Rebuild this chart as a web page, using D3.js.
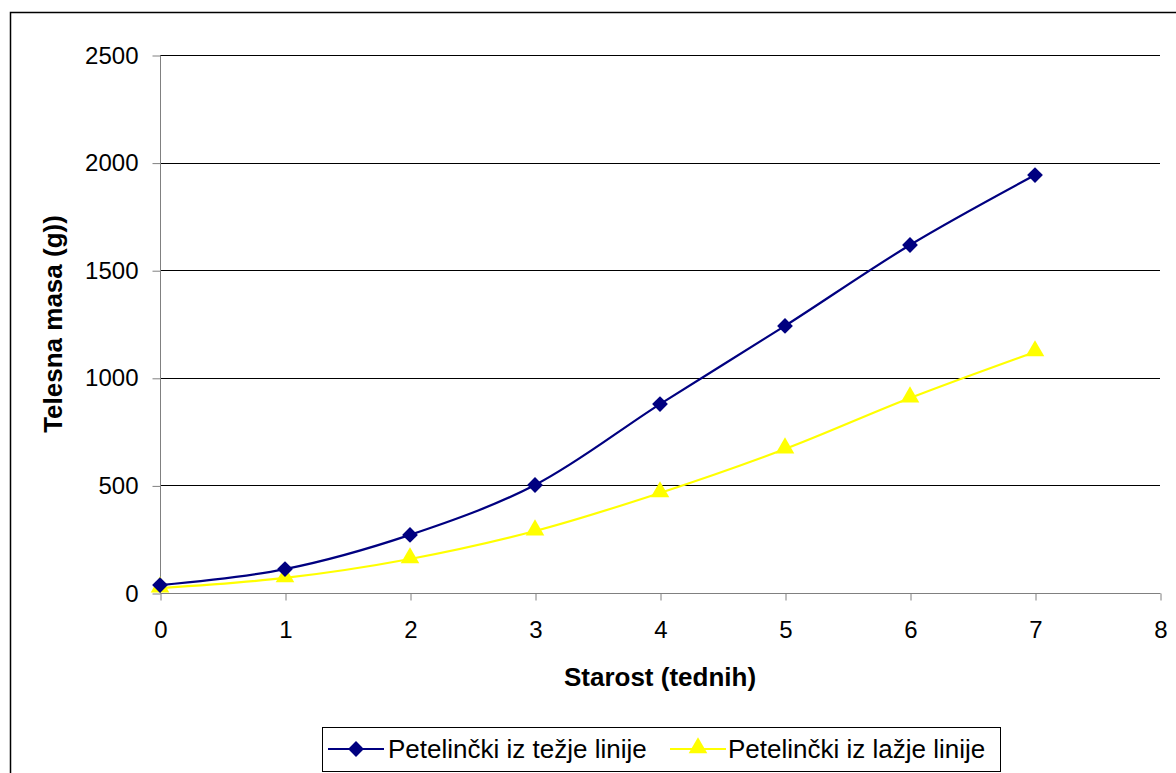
<!DOCTYPE html>
<html>
<head>
<meta charset="utf-8">
<script src="https://cdn.jsdelivr.net/npm/d3@7"></script>
<style>
  html, body { margin: 0; padding: 0; background: #fff; }
  svg { display: block; font-family: "Liberation Sans", Arial, sans-serif; }
</style>
</head>
<body>
<svg id="chart" width="1176" height="773"></svg>
<script>
// Starost (tedni) in telesna masa (g) za dve liniji petelinčkov
const weeks = [0, 1, 2, 3, 4, 5, 6, 7];
const heavyLine = [37, 111, 270, 502, 878, 1241, 1617, 1942];
const lightLine = [23, 70, 158, 288, 465, 669, 906, 1120];
const seriesNames = ["Petelinčki iz težje linije", "Petelinčki iz lažje linije"];
const xTicks = [0, 1, 2, 3, 4, 5, 6, 7, 8];
const yTicks = [0, 500, 1000, 1500, 2000, 2500];
const xTitle = "Starost (tednih)";
const yTitle = "Telesna masa (g))";

const FONT = "Liberation Sans, Arial, sans-serif";
const svg = d3.select("#chart");

// outer chart frame
svg.append("rect")
  .attr("x", 10.5).attr("y", 12.5)
  .attr("width", 1200).attr("height", 800)
  .attr("fill", "#fff").attr("stroke", "#000").attr("stroke-width", 1.5);

const x = d3.scaleLinear().domain([0, 8]).range([160, 1160]);
const y = d3.scaleLinear().domain([0, 2500]).range([593, 55]);

// horizontal gridlines
svg.append("g").selectAll("line")
  .data(yTicks.filter(d => d > 0))
  .join("line")
  .attr("x1", x(0)).attr("x2", x(8))
  .attr("y1", d => Math.round(y(d)) + 0.5).attr("y2", d => Math.round(y(d)) + 0.5)
  .attr("stroke", "#000").attr("stroke-width", 1);

// y axis
const yAxis = svg.append("g")
  .attr("transform", `translate(${x(0) + 0.5},0.5)`)
  .call(d3.axisLeft(y).tickValues(yTicks).tickSize(8).tickPadding(14).tickFormat(d3.format("d")));
yAxis.select(".domain").attr("stroke", "#808080").attr("d", `M0,${y(2500)}V${y(0)}`);
yAxis.selectAll(".tick line").attr("stroke", "#808080");
yAxis.selectAll(".tick text").attr("font-size", 24).attr("fill", "#000").attr("font-family", FONT);

// x axis
const xAxis = svg.append("g")
  .attr("transform", `translate(0.5,${Math.round(y(0)) + 0.5})`)
  .call(d3.axisBottom(x).tickValues(xTicks).tickSize(7).tickPadding(20).tickFormat(d3.format("d")));
xAxis.select(".domain").attr("stroke", "#808080").attr("d", `M${x(0)},0H${x(8)}`);
xAxis.selectAll(".tick line").attr("stroke", "#808080");
xAxis.selectAll(".tick text").attr("font-size", 24).attr("fill", "#000").attr("font-family", FONT);

// axis titles
svg.append("text")
  .attr("x", x(4)).attr("y", 686)
  .attr("text-anchor", "middle")
  .attr("font-size", 26).attr("font-weight", "bold").attr("font-family", FONT)
  .text(xTitle);

svg.append("text")
  .attr("transform", `translate(62,${y(1250)}) rotate(-90)`)
  .attr("text-anchor", "middle")
  .attr("font-size", 26).attr("font-weight", "bold").attr("font-family", FONT)
  .text(yTitle);

const line = d3.line()
  .x((d, i) => x(weeks[i]))
  .y(d => y(d))
  .curve(d3.curveCatmullRom.alpha(0.5));

const heavyColor = "#000080";
const lightColor = "#FFFF00";

const diamond = d3.symbol().type(d3.symbolSquare).size(125);
const triangle = d3.symbol().type(d3.symbolTriangle).size(150);

// light series (drawn first so heavy sits on top)
svg.append("path")
  .datum(lightLine)
  .attr("d", line)
  .attr("fill", "none").attr("stroke", lightColor).attr("stroke-width", 2.2);
svg.append("g").selectAll("path")
  .data(lightLine)
  .join("path")
  .attr("d", triangle)
  .attr("transform", (d, i) => `translate(${x(weeks[i])},${y(d) - 1})`)
  .attr("fill", lightColor);

// heavy series
svg.append("path")
  .datum(heavyLine)
  .attr("d", line)
  .attr("fill", "none").attr("stroke", heavyColor).attr("stroke-width", 2.2);
svg.append("g").selectAll("path")
  .data(heavyLine)
  .join("path")
  .attr("d", diamond)
  .attr("transform", (d, i) => `translate(${x(weeks[i])},${y(d)}) rotate(45)`)
  .attr("fill", heavyColor);

// legend
const legend = svg.append("g");
legend.append("rect")
  .attr("x", 322.5).attr("y", 727.5).attr("width", 678).attr("height", 44)
  .attr("fill", "#fff").attr("stroke", "#000").attr("stroke-width", 1);

const legendItems = [
  { name: seriesNames[0], color: heavyColor, sym: diamond, rot: 45, x0: 328, tx: 388 },
  { name: seriesNames[1], color: lightColor, sym: triangle, rot: 0, x0: 670, tx: 728 }
];
legendItems.forEach(it => {
  const cy = 749;
  legend.append("line")
    .attr("x1", it.x0).attr("x2", it.x0 + 56)
    .attr("y1", cy).attr("y2", cy)
    .attr("stroke", it.color).attr("stroke-width", 2.2);
  legend.append("path")
    .attr("d", it.sym)
    .attr("transform", `translate(${it.x0 + 28},${cy - (it.rot ? 0 : 1)}) rotate(${it.rot})`)
    .attr("fill", it.color);
  legend.append("text")
    .attr("x", it.tx).attr("y", cy + 9)
    .attr("font-size", 26).attr("font-family", FONT)
    .text(it.name);
});
</script>
</body>
</html>
